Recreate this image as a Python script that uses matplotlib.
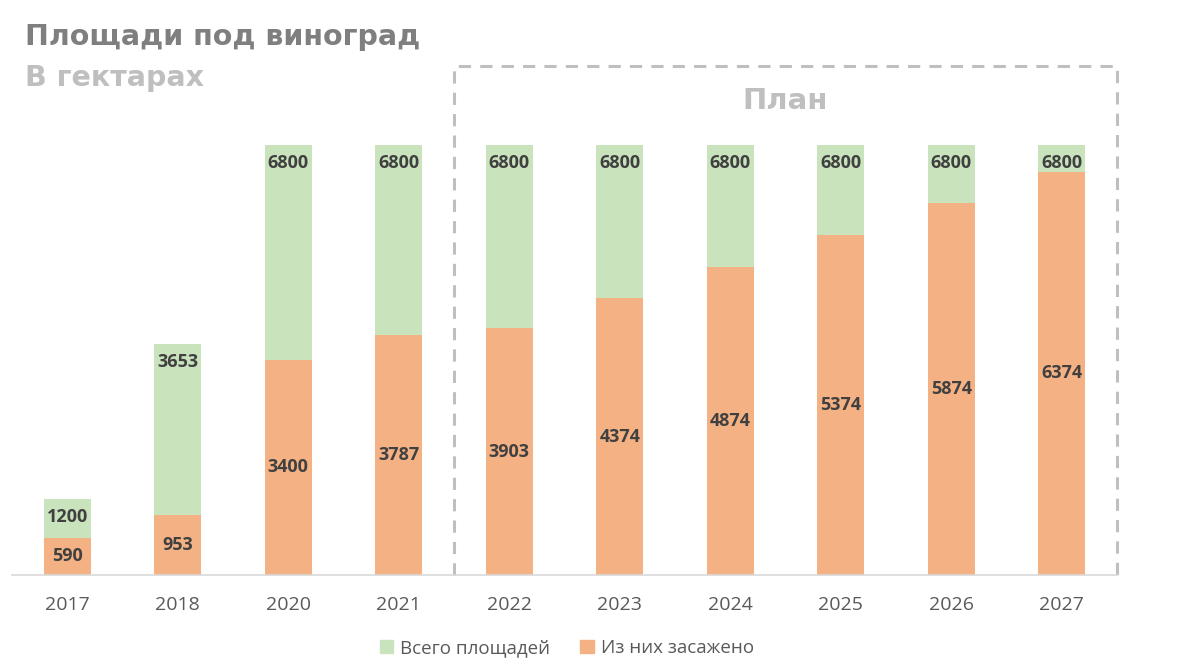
import matplotlib.pyplot as plt
from matplotlib.patches import Patch

years = ['2017', '2018', '2020', '2021', '2022', '2023', '2024', '2025', '2026', '2027']
total = [1200, 3653, 6800, 6800, 6800, 6800, 6800, 6800, 6800, 6800]
planted = [590, 953, 3400, 3787, 3903, 4374, 4874, 5374, 5874, 6374]
plan_start = 4  # index of first planned year

GREEN = '#C9E4BC'
ORANGE = '#F4B183'

plt.rcParams['font.family'] = ['Open Sans', 'DejaVu Sans']

fig = plt.figure(figsize=(11.82, 6.62), dpi=100)
ax = fig.add_axes([12 / 1182, 1 - 575 / 662, (1117 - 12) / 1182, (575 - 69) / 662])
x = list(range(len(years)))
w = 0.425

ax.bar(x, total, width=w, color=GREEN, zorder=2)
ax.bar(x, planted, width=w, color=ORANGE, zorder=3)

for i in x:
    ax.annotate(str(total[i]), (i, total[i]), xytext=(0, -13), textcoords='offset points',
                ha='center', va='center', fontsize=13, fontweight='bold', color='#404040', zorder=5)
    ax.text(i, planted[i] / 2, str(planted[i]), ha='center', va='center',
            fontsize=13, fontweight='bold', color='#404040', zorder=5)

ax.set_xlim(-0.5, 9.5)
ax.set_ylim(0, 8000)
ax.set_xticks(x)
ax.set_xticklabels(years, fontsize=14, color='#595959')
ax.tick_params(axis='x', length=0, pad=15)
ax.set_yticks([])
for s in ['top', 'left', 'right']:
    ax.spines[s].set_visible(False)
ax.spines['bottom'].set_color('#D9D9D9')
ax.spines['bottom'].set_linewidth(1.2)
ax.spines['bottom'].set_zorder(4)

# plan box (three sides, bottom sits on the axis line)
x0, x1, ytop = plan_start - 0.5, len(years) - 0.5, 8050
ax.plot([x0, x0, x1, x1], [0, ytop, ytop, 0], color='#BFBFBF', linewidth=2.2,
        linestyle=(0, (4, 3)), clip_on=False, zorder=1)
ax.text((x0 + x1) / 2, 7500, 'План', ha='center', va='center',
        fontsize=21, fontweight='bold', color='#BFBFBF', family=['DejaVu Sans'])

fig.text(25 / 1182, 1 - 37 / 662, 'Площади под виноград', ha='left', va='center',
         fontsize=20.5, fontweight='heavy', color='#7F7F7F', family=['DejaVu Sans'])
fig.text(25 / 1182, 1 - 78 / 662, 'В гектарах', ha='left', va='center',
         fontsize=20.5, fontweight='heavy', color='#BFBFBF', family=['DejaVu Sans'])

handles = [Patch(color=GREEN, label='Всего площадей'), Patch(color=ORANGE, label='Из них засажено')]
fig.legend(handles=handles, loc='center', bbox_to_anchor=(567 / 1182, 1 - 648 / 662), ncol=2,
           frameon=False, fontsize=13.5, handlelength=0.7, handleheight=0.7,
           handletextpad=0.4, columnspacing=1.6, labelcolor='#595959')

fig.savefig('out.png', dpi=100, facecolor='white')
